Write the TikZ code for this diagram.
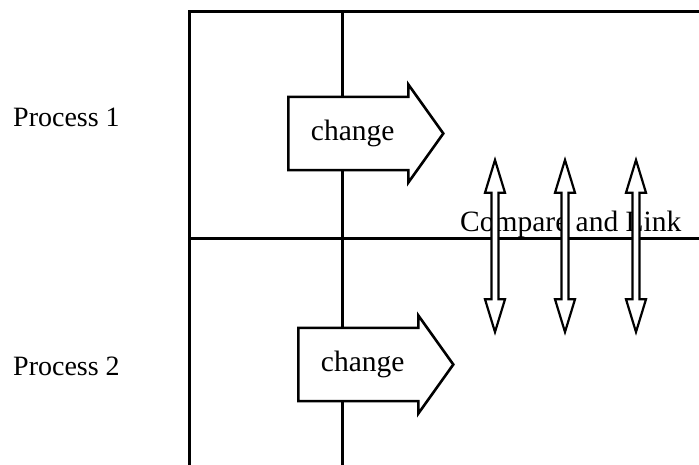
\documentclass[tikz,border=0pt]{standalone}
\usepackage{fontspec}
\setmainfont{Liberation Serif}
\usetikzlibrary{arrows.meta, positioning, shapes.arrows}

\tikzset{
    grid/.style={line width=3pt},
    chg/.style={single arrow, draw, fill=white, line width=2.6pt,
        single arrow head extend=5pt, single arrow tip angle=109,
        minimum height=155pt, minimum width=98pt, inner sep=0pt,
        anchor=tail, font=\fontsize{29.5}{31}\selectfont},
    link/.style={double arrow, draw, fill=white, line width=2.2pt,
        shape border rotate=90, double arrow head extend=2pt,
        double arrow tip angle=34, minimum height=172pt,
        minimum width=20pt, inner sep=0pt},
    proc/.style={anchor=base west, inner sep=0pt, font=\fontsize{28}{30}\selectfont}
}

\begin{document}
\begin{tikzpicture}[x=1pt, y=-1pt]
    \useasboundingbox (0,0) rectangle (699,465);

    % Draw grid
    \draw[grid] (699,12) -- (189,12) -- (189,465);
    \draw[grid] (342,12) -- (342,465);
    \draw[grid] (189,239) -- (699,239);

    % Labels
    \node[proc] (p1) at (13,127) {Process 1};
    \node[proc] (p2) at (13,375) {Process 2};
    \node[proc, font=\fontsize{29.5}{31}\selectfont] (cmp) at (460,232) {Compare and Link};

    % Change arrows
    \node[chg] (chg1) at (287,133.5) {change};
    \node[chg] (chg2) at (297,364.5) {change};

    % Compare arrows
    \node[link] (l1) at (495,246) {};
    \node[link] (l2) at (565,246) {};
    \node[link] (l3) at (636,246) {};
\end{tikzpicture}
\end{document}
